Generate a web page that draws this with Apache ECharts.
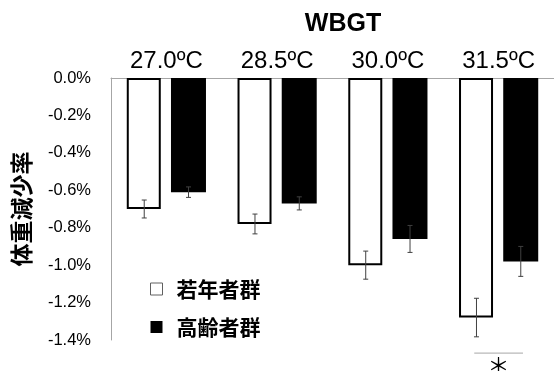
<!DOCTYPE html>
<html><head><meta charset="utf-8">
<script src="https://cdn.jsdelivr.net/npm/echarts@6/dist/echarts.min.js"></script>
<style>html,body{margin:0;padding:0;background:#fff}#c{width:554px;height:371px}</style>
</head><body><div id="c"></div>
<script>
var categories = ['27.0ºC', '28.5ºC', '30.0ºC', '31.5ºC'];
var seriesNames = ['若年者群', '高齢者群'];
var youngValues = [-0.70, -0.78, -1.00, -1.28];
var oldValues = [-0.61, -0.67, -0.86, -0.98];
var youngErr = [0.048, 0.053, 0.075, 0.103];
var oldErr = [0.028, 0.035, 0.072, 0.080];
var yTicks = [0, -0.2, -0.4, -0.6, -0.8, -1.0, -1.2, -1.4];
var sigMarks = [[3, '＊']];

var LAT = 'Liberation Sans, Arial, sans-serif';
var JP = 'Noto Sans CJK JP, sans-serif';

function errData(vals, errs) { return vals.map(function (v, i) { return [i, v, errs[i]]; }); }
function errRender(sign) {
  return function (params, api) {
    var x = api.value(0), v = api.value(1), e = api.value(2);
    var band = api.size([1, 0])[0];
    var cx = api.coord([x, v])[0] + sign * band * 0.2;
    var t = api.coord([x, v + e])[1], b = api.coord([x, v - e])[1];
    var st = { stroke: '#404040', lineWidth: 1 };
    var w = 2.5;
    return { type: 'group', children: [
      { type: 'line', shape: { x1: cx, y1: t, x2: cx, y2: b }, style: st },
      { type: 'line', shape: { x1: cx - w, y1: t, x2: cx + w, y2: t }, style: st },
      { type: 'line', shape: { x1: cx - w, y1: b, x2: cx + w, y2: b }, style: st }
    ]};
  };
}

var chart = echarts.init(document.getElementById('c'));
chart.setOption({
  animation: false,
  title: { text: 'WBGT', left: 338, top: 7, textAlign: 'center',
    textStyle: { fontFamily: LAT, fontWeight: 'bold', fontSize: 25, color: '#000' } },
  grid: { left: 111, top: 78, width: 447, height: 262 },
  legend: {
    data: [
      { name: seriesNames[0], itemStyle: { color: '#fff', borderColor: '#606060', borderWidth: 1 } },
      { name: seriesNames[1], itemStyle: { color: '#000' } }
    ],
    orient: 'vertical', left: 150, top: 278, padding: 0, itemWidth: 12, itemHeight: 12, itemGap: 16,
    icon: 'rect',
    textStyle: { fontFamily: JP, fontWeight: 'bold', fontSize: 21, lineHeight: 22, color: '#000', padding: [0, 0, 0, 9] }
  },
  xAxis: {
    type: 'category', data: categories, position: 'top',
    axisLine: { onZero: false, lineStyle: { color: '#a6a6a6', width: 1 } },
    axisTick: { show: false },
    axisLabel: { fontFamily: LAT, fontSize: 24, color: '#000', margin: 5 }
  },
  yAxis: {
    type: 'value', min: -1.4, max: 0, interval: 0.2,
    name: '体重減少率', nameLocation: 'middle', nameGap: 78, nameRotate: 90,
    nameTextStyle: { fontFamily: JP, fontWeight: 'bold', fontSize: 23, color: '#000' },
    axisLine: { show: true, lineStyle: { color: '#a6a6a6', width: 1 } },
    axisTick: { show: false },
    splitLine: { show: false },
    axisLabel: { fontFamily: LAT, fontSize: 16.5, color: '#000', margin: 20,
      formatter: function (v) { return v.toFixed(1) + '%'; } }
  },
  series: [
    { name: seriesNames[0], type: 'bar', data: youngValues, barWidth: 34, barGap: '30%',
      itemStyle: { color: '#fff', borderColor: '#000', borderWidth: 2 } },
    { name: seriesNames[1], type: 'bar', data: oldValues, barWidth: 35,
      itemStyle: { color: '#000' } },
    { name: 'errY', type: 'custom', data: errData(youngValues, youngErr), renderItem: errRender(-1), z: 5 },
    { name: 'errO', type: 'custom', data: errData(oldValues, oldErr), renderItem: errRender(1), z: 5 },
    { name: 'sig', type: 'custom', clip: false, data: sigMarks.map(function (s) { return [s[0], -1.47, s[1]]; }),
      renderItem: function (params, api) {
        var p = api.coord([api.value(0), -1.47]);
        var band = api.size([1, 0])[0];
        var half = band * 0.22;
        return { type: 'group', children: [
          { type: 'line', shape: { x1: p[0] - half, y1: p[1], x2: p[0] + half, y2: p[1] },
            style: { stroke: '#a6a6a6', lineWidth: 1 } },
          { type: 'text', style: { text: sigMarks[params.dataIndex][1], x: p[0], y: p[1] + 1,
            align: 'center', verticalAlign: 'top', font: '22px Noto Sans CJK JP', fill: '#000' } }
        ]};
      } }
  ]
});
</script></body></html>
